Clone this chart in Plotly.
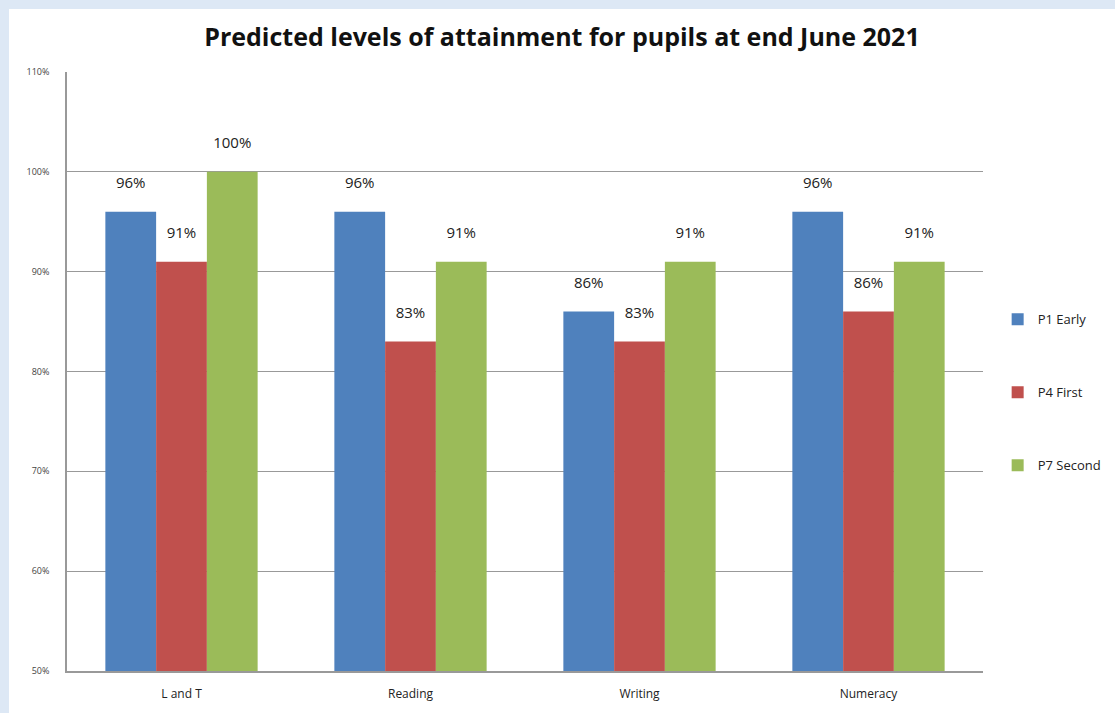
import plotly.graph_objects as go

categories = ["L and T", "Reading", "Writing", "Numeracy"]
series_names = ["P1 Early", "P4 First", "P7 Second"]
p1_early = [96, 96, 86, 96]
p4_first = [91, 83, 83, 86]
p7_second = [100, 91, 91, 91]
y_ticks = [50, 60, 70, 80, 90, 100, 110]
y_tick_labels = ["50%", "60%", "70%", "80%", "90%", "100%", "110%"]

colors = ["#4F81BD", "#C0504D", "#9BBB59"]
series_values = [p1_early, p4_first, p7_second]

fig = go.Figure()
for i, (name, vals) in enumerate(zip(series_names, series_values)):
    fig.add_trace(go.Bar(
        x=categories, y=vals, name=name, legendgroup=name,
        offsetgroup=str(i),
        marker=dict(color=colors[i], line=dict(width=0)),
    ))
for i, (name, vals) in enumerate(zip(series_names, series_values)):
    fig.add_trace(go.Scatter(
        x=categories, y=vals, mode="markers+text", offsetgroup=str(i),
        text=[f"{v}%" for v in vals], textposition="top center",
        marker=dict(size=30, color="rgba(0,0,0,0)"),
        textfont=dict(family="Open Sans", size=15, color="#222"),
        showlegend=False, hoverinfo="skip", cliponaxis=False,
    ))

fig.update_layout(
    width=1115, height=713,
    barmode="group", bargap=0.335, bargroupgap=0,
    scattermode="group", scattergap=0.335,
    paper_bgcolor="white", plot_bgcolor="white",
    margin=dict(l=67, r=132, t=72, b=42, autoexpand=False),
    title=dict(text="<b>Predicted levels of attainment for pupils at end June 2021</b>",
               x=0.504, xanchor="center", y=0.948, yanchor="middle",
               font=dict(family="Open Sans", size=25, color="#111")),
    legend=dict(x=1.016, xanchor="left", y=0.612, yanchor="top",
                font=dict(family="Open Sans", size=13, color="#222"),
                tracegroupgap=53, itemwidth=30, bgcolor="rgba(0,0,0,0)"),
    showlegend=True,
    yaxis=dict(range=[50, 110], tickvals=y_ticks, ticktext=y_tick_labels,
               showgrid=True, gridcolor="#999", gridwidth=1,
               showline=True, linecolor="#999", linewidth=1.5,
               ticks="", ticklabelstandoff=14,
               tickfont=dict(family="Open Sans", size=9, color="#444"),
               zeroline=False),
    xaxis=dict(showline=True, linecolor="#999", linewidth=1.5, ticks="",
               ticklabelstandoff=11,
               tickfont=dict(family="Open Sans", size=12, color="#222")),
    shapes=[
        dict(type="rect", xref="paper", yref="paper", xsizemode="pixel", ysizemode="pixel",
             xanchor=0, yanchor=1, x0=-67, x1=-58, y0=-650, y1=80,
             fillcolor="#DDE8F5", line=dict(width=0), layer="below"),
        dict(type="rect", xref="paper", yref="paper", xsizemode="pixel", ysizemode="pixel",
             xanchor=0, yanchor=1, x0=-67, x1=1100, y0=63, y1=80,
             fillcolor="#DDE8F5", line=dict(width=0), layer="below"),
    ],
)

fig.write_html(
    "out.html",
    config={"displayModeBar": False},
    post_script="document.body.style.margin='0';document.body.style.overflow='hidden';",
)
